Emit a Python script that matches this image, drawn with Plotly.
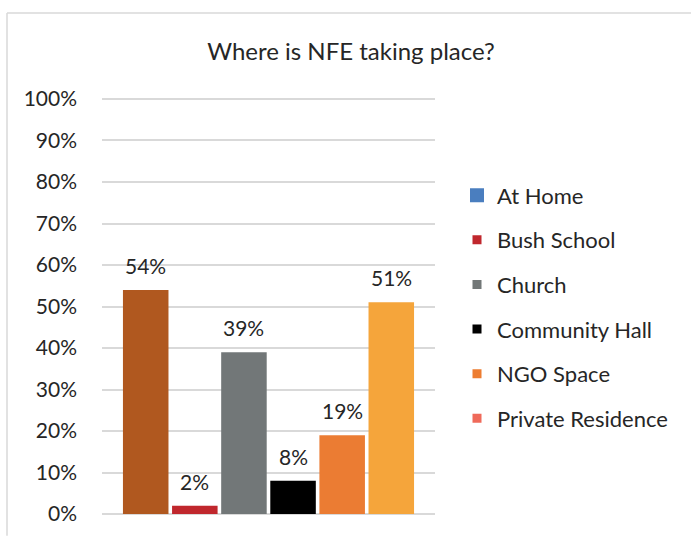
import plotly.graph_objects as go

# Data
locations = ["At Home", "Bush School", "Church", "Community Hall", "NGO Space", "Private Residence"]
shares = [54, 2, 39, 8, 19, 51]  # percent of respondents
bar_colors = ["#B0581F", "#C0272D", "#727778", "#000000", "#EB7C33", "#F5A53B"]
legend_colors = ["#4A7EBF", "#C0272D", "#737878", "#000000", "#ED7D31", "#EF6A5A"]
legend_sizes = [14, 9, 9, 9, 9, 9]
y_ticks = list(range(0, 101, 10))

W, H = 691, 537
# plot area padded by 2px top and bottom so the 0% and 100% gridlines are kept
L, R, T, B = 102, 256, 97, 18
Y_PAD = 0.48
FONT = "Lato, Carlito, Calibri, sans-serif"
TXT = "#262626"
BORDER = "#D9D9D9"


def px_x(p):
    return (p - L) / (W - L - R)


def px_y(p):
    return (H - B - p) / (H - T - B)


fig = go.Figure()

fig.add_trace(go.Bar(
    x=locations,
    y=shares,
    marker=dict(color=bar_colors, line=dict(width=0)),
    showlegend=False,
    hoverinfo="x+y",
))

# Legend entries
for name, col, sz in zip(locations, legend_colors, legend_sizes):
    fig.add_trace(go.Scatter(
        x=[None], y=[None], mode="markers", name=name,
        legendgroup=name,
        marker=dict(symbol="square", color=col, size=sz, line=dict(width=0)),
    ))

# Data labels above each bar
for name, v in zip(locations, shares):
    fig.add_annotation(
        x=name, y=v, text=f"{v}%", showarrow=False,
        yanchor="bottom", yshift=10,
        font=dict(family=FONT, size=21, color=TXT),
    )

# Chart-area border (top and left edges)
fig.add_shape(type="line", xref="paper", yref="paper",
              x0=px_x(7), x1=px_x(W + 2), y0=px_y(12.5), y1=px_y(12.5),
              line=dict(color=BORDER, width=1.5))
fig.add_shape(type="line", xref="paper", yref="paper",
              x0=px_x(7), x1=px_x(7), y0=px_y(12.5), y1=px_y(H + 2),
              line=dict(color=BORDER, width=1.5))

fig.update_layout(
    width=W, height=H,
    margin=dict(l=L, r=R, t=T, b=B),
    paper_bgcolor="white",
    plot_bgcolor="white",
    bargap=0.073,
    font=dict(family=FONT, size=21, color=TXT),
    title=dict(
        text="Where is NFE taking place?",
        x=351 / W, xref="container", xanchor="center",
        y=1 - 52 / H, yref="container", yanchor="middle",
        font=dict(family=FONT, size=24, color=TXT),
    ),
    xaxis=dict(
        type="category",
        range=[-0.89, 5.89],
        showticklabels=False,
        showgrid=False,
        zeroline=False,
        showline=False,
        ticks="",
    ),
    yaxis=dict(
        range=[-Y_PAD, 100 + Y_PAD],
        tickvals=y_ticks,
        ticktext=[f"{t}%" for t in y_ticks],
        showgrid=True,
        gridcolor=BORDER,
        gridwidth=1.5,
        zeroline=False,
        showline=False,
        ticks="",
        ticklabelstandoff=24,
        tickfont=dict(family=FONT, size=21, color=TXT),
    ),
    legend=dict(
        x=px_x(457), xanchor="left",
        y=px_y(175), yanchor="top",
        traceorder="grouped",
        tracegroupgap=13,
        font=dict(family=FONT, size=22, color=TXT),
        bgcolor="rgba(0,0,0,0)",
        itemclick=False,
    ),
)

fig.write_html("out.html")
